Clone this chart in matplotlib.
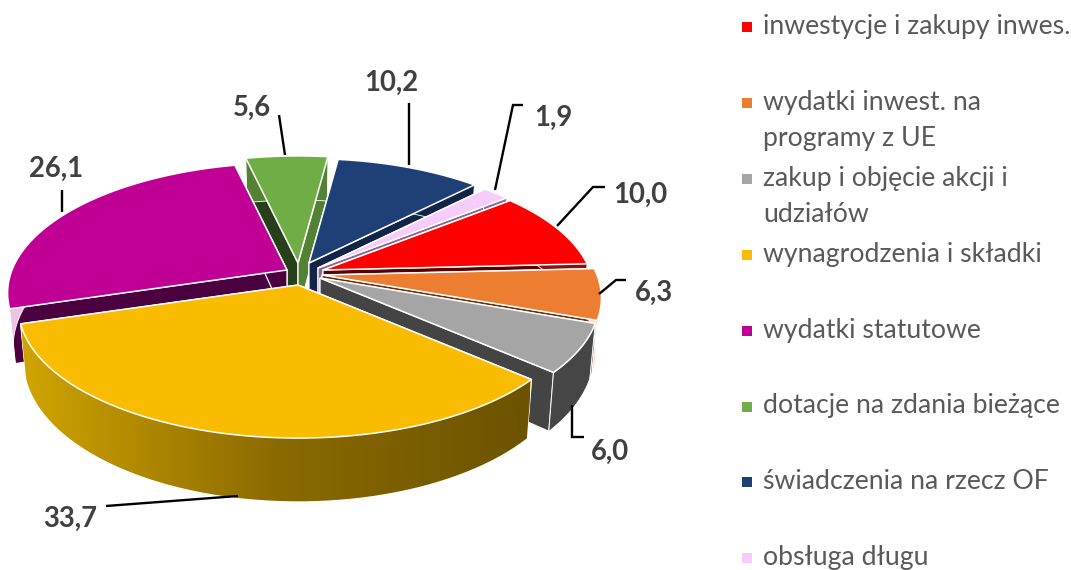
import numpy as np
import matplotlib
matplotlib.use("Agg")
import matplotlib.pyplot as plt
from matplotlib.patches import Polygon
from matplotlib.colors import LinearSegmentedColormap

plt.rcParams["font.family"] = ["Lato", "Open Sans", "DejaVu Sans"]

# ── data ─────────────────────────────────────────────
labels = ["inwestycje i zakupy inwes.", "wydatki inwest. na\nprogramy z UE",
          "zakup i objęcie akcji i\nudziałów", "wynagrodzenia i składki",
          "wydatki statutowe", "dotacje na zdania bieżące",
          "świadczenia na rzecz OF", "obsługa długu"]
values = [10.0, 6.3, 6.0, 33.7, 26.1, 5.6, 10.2, 1.9]

# ── style ────────────────────────────────────────────
top_col = ["#FF0000", "#ED7D31", "#A5A5A5", "#FABC00", "#C00095", "#70AD47", "#1F3F77", "#F6CCFB"]
wall_a = ["#5A0000", "#6B3010", "#444444", "#C9A000", "#4B0040", "#28401A", "#122548", "#8A6A90"]  # start cut wall
wall_b = ["#5A0000", "#6B3010", "#444444", "#C9A000", "#4B0040", "#548235", "#122548", "#8A6A90"]  # end cut wall
wall_o = ["#8A1010", "#F3DCCB", "#464646", "#C9A000", "#EBC4E4", "#548235", "#122548", "#8A6A90"]  # outer wall

# where each exploded slice has its tip, and radius scale
apex_x = [323, 322, 320, 298, 287, 298, 309, 318]
apex_y = [270, 275, 278, 285, 270, 263, 263, 268]
r_scale = [0.97, 1.0, 1.0, 1.0, 1.0, 1.0, 0.97, 0.98]

start_deg = 51.0
rx, ry, persp = 275.0, 126.0, 0.177
depth = 52.0
draw_order = [5, 6, 7, 0, 4, 1, 2, 3]


def project(i, th, r=1.0):
    u, v = np.sin(th), -np.cos(th)
    r = r * r_scale[i]
    f = 1 / (1 - persp * v * r)
    return apex_x[i] + rx * u * r * f, apex_y[i] + ry * v * r * f, f


def drop(i, x, y, f):
    # point on the bottom face, under a point of the top face
    return apex_x[i] + (x - apex_x[i]) * 0.98, y + depth * f


fig = plt.figure(figsize=(10.71, 5.70), dpi=100)
ax = fig.add_axes([0, 0, 1, 1])
ax.axis("off")

edges = np.cumsum([0] + values) / sum(values) * 2 * np.pi + np.radians(start_deg)
grad = LinearSegmentedColormap.from_list("gold", ["#CFA400", "#8B6A00", "#6B5300"])

z = 2
for i in draw_order:
    t0, t1 = edges[i], edges[i + 1]
    ths = np.linspace(t0, t1, 60)
    arc = [project(i, t) for t in ths]
    tip = (apex_x[i], apex_y[i])
    tip_low = (apex_x[i], apex_y[i] + depth)

    # cut walls
    for th, col in ((t0, wall_a[i]), (t1, wall_b[i])):
        x, y, f = project(i, th)
        ax.add_patch(Polygon([tip, (x, y), drop(i, x, y, f), tip_low], closed=True,
                             facecolor=col, edgecolor="white", lw=0.9, zorder=z))
        z += 1

    # outer wall
    upper = [(a[0], a[1]) for a in arc]
    lower = [drop(i, *a) for a in arc][::-1]
    wall = Polygon(upper + lower, closed=True, facecolor=wall_o[i], edgecolor="white",
                   lw=0.6, zorder=z)
    ax.add_patch(wall)
    z += 1
    if i == 3:
        # yellow slice has a gradient on its side
        im = ax.imshow(np.linspace(0, 1, 256).reshape(1, -1), cmap=grad, aspect="auto",
                       extent=[22, 530, 520, 320], zorder=z)
        im.set_clip_path(wall)
        z += 1

    # top face
    ax.add_patch(Polygon([tip] + upper, closed=True, facecolor=top_col[i],
                         edgecolor="white", lw=1.1, zorder=z))
    z += 1

# ── value labels with leader lines ───────────────────
leader_x = [[557, 593, 605], [599, 616, 626], [572, 572, 584], [238, 106],
            [62, 62], [285, 279], [409, 409], [495, 513, 523]]
leader_y = [[226, 187, 187], [294, 280, 280], [405, 437, 437], [496, 506],
            [212, 190], [155, 115], [165, 103], [190, 105, 105]]
label_x = [640, 654, 610, 70, 56, 252, 391, 553]
label_y = [195, 293, 452, 519, 169, 108, 83, 118]

for i, v in enumerate(values):
    ax.plot(leader_x[i], leader_y[i], color="black", lw=1.7, zorder=z,
            solid_joinstyle="miter", solid_capstyle="butt")
    ax.text(label_x[i], label_y[i], f"{v:.1f}".replace(".", ","), color="#404040",
            fontsize=19.8, fontweight="bold", ha="center", va="center", zorder=z)

# ── legend ───────────────────────────────────────────
for i, lab in enumerate(labels):
    y = 27 + i * 75.9
    ax.scatter([747], [y], marker="s", s=50, color=top_col[i], linewidths=0, zorder=z)
    ax.text(763, y - 13, lab, color="#595959", fontsize=19.2, ha="left", va="top",
            linespacing=1.55, zorder=z)

ax.set_xlim(0, 1071)
ax.set_ylim(570, 0)
fig.savefig("out.png", dpi=100, facecolor="white")
